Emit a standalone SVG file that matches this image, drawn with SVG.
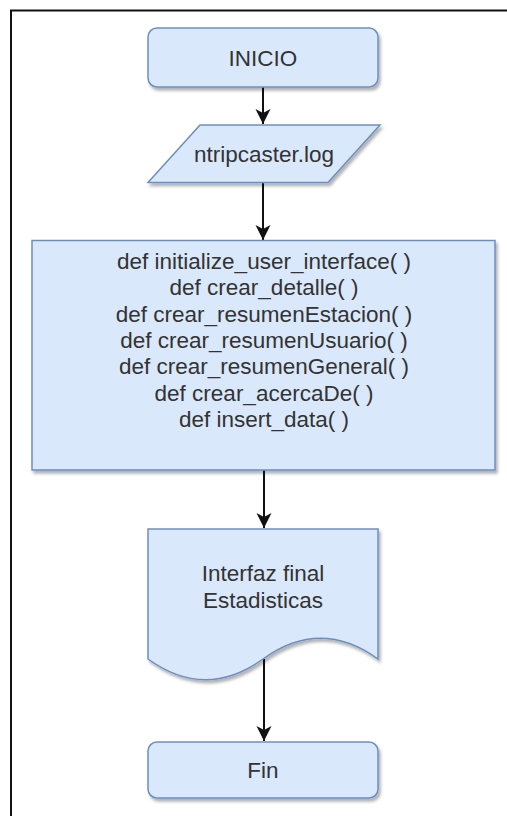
<svg xmlns="http://www.w3.org/2000/svg" width="507" height="816" viewBox="0 0 507 816">
  <defs>
    <filter id="shadow" x="-10%" y="-10%" width="125%" height="130%">
      <feDropShadow dx="2" dy="3" stdDeviation="1.5" flood-color="#000" flood-opacity="0.3"/>
    </filter>
    <marker id="arrow" markerUnits="userSpaceOnUse" markerWidth="16" markerHeight="16" refX="15" refY="8" orient="auto">
      <path d="M15,8 L0,0.5 L4,8 L0,15.5 Z" fill="#111"/>
    </marker>
  </defs>
  <style>
    .shape { fill: #dae8fc; stroke: #6c8ebf; stroke-width: 1.5; filter: url(#shadow); }
    .label { font-family: "Liberation Sans", Arial, sans-serif; font-size: 22.5px; fill: #333; text-anchor: middle; }
    .edge { stroke: #111; stroke-width: 2; fill: none; marker-end: url(#arrow); }
    .frame { stroke: #111; stroke-width: 2; fill: none; }
  </style>

  <rect width="507" height="816" fill="#fff"/>

  <!-- page frame (top and left edges) -->
  <path class="frame" d="M11,816 L11,10.5 L507,10.5"/>

  <g id="connectors">
    <line class="edge" x1="263" y1="87" x2="263" y2="124"/>
    <line class="edge" x1="263" y1="183" x2="263" y2="240"/>
    <line class="edge" x1="264" y1="470" x2="264" y2="528"/>
    <line class="edge" x1="264" y1="659" x2="264" y2="741"/>
  </g>

  <g id="inicio">
    <rect class="shape" x="148" y="28" width="230" height="59" rx="9" ry="9"/>
    <text class="label" x="263" y="66">INICIO</text>
  </g>

  <g id="log-file">
    <path class="shape" d="M200,125 L380,125 L328,182.5 L148,182.5 Z"/>
    <text class="label" x="264" y="162">ntripcaster.log</text>
  </g>

  <g id="functions">
    <rect class="shape" x="32" y="240.5" width="463" height="229.5"/>
    <text class="label" x="264" y="269">def initialize_user_interface( )</text>
    <text class="label" x="264" y="295.3">def crear_detalle( )</text>
    <text class="label" x="264" y="321.6">def crear_resumenEstacion( )</text>
    <text class="label" x="264" y="347.9">def crear_resumenUsuario( )</text>
    <text class="label" x="264" y="374.2">def crear_resumenGeneral( )</text>
    <text class="label" x="264" y="400.5">def crear_acercaDe( )</text>
    <text class="label" x="264" y="426.8">def insert_data( )</text>
  </g>

  <g id="interfaz">
    <path class="shape" d="M148,529 L378,529 L378,659 Q320.5,617.6 263,659 Q205.5,700.4 148,659 Z"/>
    <text class="label" x="263" y="581">Interfaz final</text>
    <text class="label" x="263" y="608">Estadisticas</text>
  </g>

  <g id="fin">
    <rect class="shape" x="148" y="742" width="230" height="56" rx="9" ry="9"/>
    <text class="label" x="263" y="778">Fin</text>
  </g>
</svg>
